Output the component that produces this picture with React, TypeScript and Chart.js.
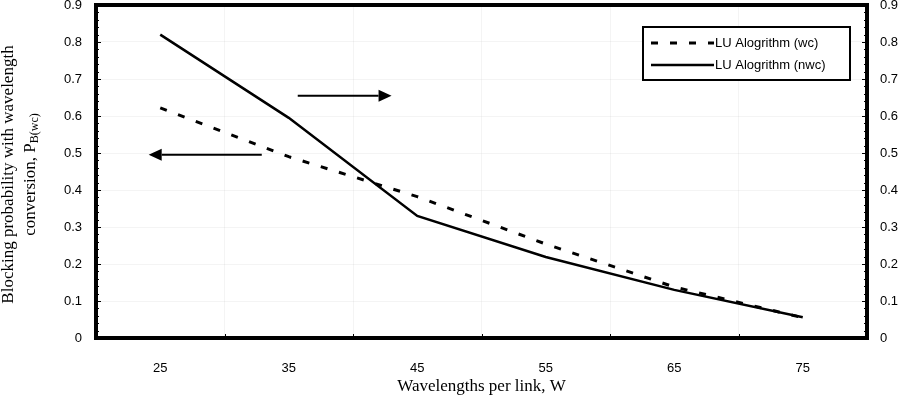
import React, { useEffect, useRef } from "react";
import { Chart, registerables } from "chart.js";

Chart.register(...registerables);

const categories = ["25", "35", "45", "55", "65", "75"];
const wcValues = [0.622, 0.49, 0.382, 0.254, 0.138, 0.055];
const nwcValues = [0.82, 0.595, 0.33, 0.219, 0.13, 0.056];
const seriesLabels = ["LU Alogrithm (wc)", "LU Alogrithm (nwc)"];
const yTitleLine1 = "Blocking probability with wavelength";
const yTitleLine2 = "conversion, P";
const yTitleSub = "B(wc)";
const xTitle = "Wavelengths per link, W";
// arrows: [xFromIndex, yFrom, xToIndex, yTo]
const arrows: number[][] = [
  [1.07, 0.655, 1.8, 0.655],
  [0.79, 0.495, -0.09, 0.495],
];

const SANS = "'Liberation Sans', Arial, sans-serif";
const SERIF = "'Liberation Serif', 'Times New Roman', serif";

const decorPlugin = {
  id: "decor",
  afterDatasetsDraw(chart: any) {
    const { ctx, chartArea, scales } = chart;
    const { left, right, top, bottom } = chartArea;
    const y = scales.y;
    const x = scales.x;
    ctx.save();
    // minor/major ticks
    ctx.strokeStyle = "#000";
    ctx.lineWidth = 1;
    for (let i = 0; i <= 45; i++) {
      const v = i * 0.02;
      const py = Math.round(y.getPixelForValue(v)) + 0.5;
      const major = i % 5 === 0;
      const len = major ? 5 : 3;
      ctx.beginPath();
      ctx.moveTo(left, py);
      ctx.lineTo(left + len, py);
      ctx.moveTo(right, py);
      ctx.lineTo(right - len, py);
      ctx.stroke();
    }
    for (let i = 0; i <= categories.length; i++) {
      const px = Math.round(x.getPixelForValue(i - 0.5)) + 0.5;
      ctx.beginPath();
      ctx.moveTo(px, bottom);
      ctx.lineTo(px, bottom - 4);
      ctx.stroke();
    }
    // arrows
    ctx.lineWidth = 2;
    ctx.fillStyle = "#000";
    arrows.forEach(([x0, y0, x1, y1]) => {
      const ax = x.getPixelForValue(x0);
      const ay = y.getPixelForValue(y0);
      const bx = x.getPixelForValue(x1);
      const by = y.getPixelForValue(y1);
      const ang = Math.atan2(by - ay, bx - ax);
      const hl = 13;
      const hw = 6;
      const ex = bx - hl * Math.cos(ang);
      const ey = by - hl * Math.sin(ang);
      ctx.beginPath();
      ctx.moveTo(ax, ay);
      ctx.lineTo(ex, ey);
      ctx.stroke();
      ctx.beginPath();
      ctx.moveTo(bx, by);
      ctx.lineTo(ex - hw * Math.sin(ang), ey + hw * Math.cos(ang));
      ctx.lineTo(ex + hw * Math.sin(ang), ey - hw * Math.cos(ang));
      ctx.closePath();
      ctx.fill();
    });
    // frame
    ctx.lineWidth = 4;
    ctx.strokeStyle = "#000";
    ctx.strokeRect(left, top, right - left, bottom - top);
    // legend
    const lx = right - 224;
    const ly = top + 22;
    const lw = 207;
    const lh = 53;
    ctx.fillStyle = "#fff";
    ctx.fillRect(lx, ly, lw, lh);
    ctx.lineWidth = 2;
    ctx.strokeRect(lx, ly, lw, lh);
    ctx.font = `13px ${SANS}`;
    ctx.textBaseline = "middle";
    ctx.textAlign = "left";
    chart.data.datasets.forEach((ds: any, i: number) => {
      const ry = ly + 16 + i * 22;
      ctx.save();
      ctx.strokeStyle = "#000";
      ctx.lineWidth = ds.borderWidth;
      ctx.setLineDash(ds.borderDash || []);
      ctx.beginPath();
      ctx.moveTo(lx + 8, ry);
      ctx.lineTo(lx + 71, ry);
      ctx.stroke();
      ctx.restore();
      ctx.fillStyle = "#000";
      ctx.fillText(ds.label, lx + 72, ry);
    });
    ctx.restore();

    // y title with subscript
    ctx.save();
    ctx.fillStyle = "#000";
    ctx.translate(0, (top + bottom) / 2 + 3);
    ctx.rotate(-Math.PI / 2);
    ctx.textBaseline = "middle";
    ctx.textAlign = "center";
    ctx.font = `17px ${SERIF}`;
    ctx.fillText(yTitleLine1, 0, 9);
    const w2 = ctx.measureText(yTitleLine2).width;
    ctx.font = `12px ${SERIF}`;
    const ws = ctx.measureText(yTitleSub).width;
    const startX = -(w2 + ws) / 2;
    ctx.font = `17px ${SERIF}`;
    ctx.textAlign = "left";
    ctx.fillText(yTitleLine2, startX, 31);
    ctx.font = `12px ${SERIF}`;
    ctx.fillText(yTitleSub, startX + w2, 35);
    ctx.restore();
  },
};

const yAfterFit = (w: number) => (s: any) => {
  s.width = w;
  s.paddingTop = 0;
  s.paddingBottom = 0;
};

export default function App() {
  const ref = useRef<HTMLCanvasElement>(null);
  useEffect(() => {
    if (!ref.current) return;
    const gridColor = "rgba(0,0,0,0.045)";
    const chart = new Chart(ref.current, {
      type: "line",
      data: {
        labels: categories,
        datasets: [
          {
            label: seriesLabels[0],
            data: wcValues,
            borderColor: "#000",
            borderWidth: 3,
            borderDash: [7, 12],
            pointRadius: 0,
            fill: false,
            tension: 0,
          },
          {
            label: seriesLabels[1],
            data: nwcValues,
            borderColor: "#000",
            borderWidth: 2.5,
            pointRadius: 0,
            fill: false,
            tension: 0,
          },
        ],
      },
      options: {
        animation: false,
        responsive: false,
        maintainAspectRatio: false,
        layout: { padding: { top: 5, left: 0, right: 0, bottom: 0 } },
        plugins: {
          legend: { display: false },
          tooltip: { enabled: false },
        },
        scales: {
          x: {
            type: "category",
            offset: true,
            border: { display: false },
            grid: { color: gridColor, drawTicks: false, offset: true },
            ticks: { color: "#000", font: { family: SANS, size: 13 }, padding: 23 },
            title: {
              display: true,
              text: xTitle,
              color: "#000",
              font: { family: SERIF, size: 17 },
              padding: { top: 0, bottom: 4 },
            },
            afterFit: (s: any) => {
              s.height = 63;
            },
          },
          y: {
            position: "left",
            min: 0,
            max: 0.9,
            border: { display: false },
            grid: { color: gridColor, drawTicks: false },
            ticks: {
              stepSize: 0.1,
              color: "#000",
              font: { family: SANS, size: 13 },
              padding: 14,
              callback: (v: any) => String(Math.round(Number(v) * 10) / 10),
            },
            afterFit: yAfterFit(96),
          },
          y2: {
            position: "right",
            min: 0,
            max: 0.9,
            border: { display: false },
            grid: { display: false, drawTicks: false },
            ticks: {
              stepSize: 0.1,
              color: "#000",
              font: { family: SANS, size: 13 },
              padding: 13,
              callback: (v: any) => String(Math.round(Number(v) * 10) / 10),
            },
            afterFit: yAfterFit(32),
          },
        },
      },
      plugins: [decorPlugin],
    } as any);
    return () => chart.destroy();
  }, []);
  return (
    <div style={{ position: "absolute", left: 0, top: 0, width: 899, height: 401, background: "#fff" }}>
      <canvas ref={ref} width={899} height={401} style={{ width: 899, height: 401 }} />
    </div>
  );
}
